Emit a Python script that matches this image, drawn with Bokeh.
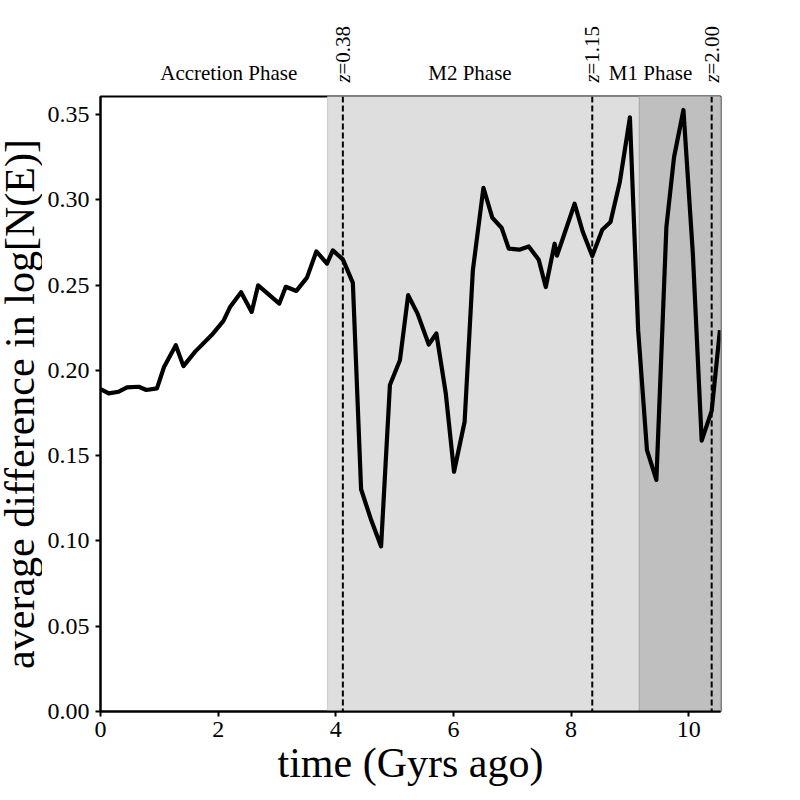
import math
from bokeh.plotting import figure
from bokeh.layouts import column, row
from bokeh.models import Range1d, FixedTicker, PrintfTickFormatter, Span, ColumnDataSource
from bokeh.core.properties import value
from bokeh.embed import file_html
from bokeh.resources import INLINE

# ---- data ----
time_gyr = [0.00, 0.14, 0.31, 0.45, 0.65, 0.78, 0.96, 1.08, 1.28, 1.41, 1.61, 1.89,
            2.09, 2.20, 2.39, 2.57, 2.68, 3.04, 3.15, 3.33, 3.51, 3.67, 3.85, 3.95,
            4.12, 4.29, 4.43, 4.60, 4.77, 4.92, 5.09, 5.23, 5.39, 5.58, 5.71, 5.87,
            6.01, 6.19, 6.33, 6.51, 6.66, 6.82, 6.94, 7.12, 7.28, 7.45, 7.57, 7.72,
            7.76, 7.91, 8.06, 8.20, 8.36, 8.53, 8.67, 8.83, 9.00, 9.14, 9.29, 9.45,
            9.62, 9.75, 9.91, 10.07, 10.22, 10.39, 10.53]
avg_diff = [0.189, 0.1865, 0.1875, 0.190, 0.1904, 0.1885, 0.1895, 0.202, 0.2148, 0.2025,
            0.211, 0.2207, 0.229, 0.237, 0.2458, 0.2343, 0.2499, 0.2392, 0.249, 0.2466,
            0.2544, 0.2698, 0.2626, 0.2704, 0.2651, 0.2513, 0.1303, 0.1124, 0.0968, 0.1914,
            0.2060, 0.2441, 0.2333, 0.2152, 0.2216, 0.1865, 0.1406, 0.1699, 0.2587, 0.3071,
            0.2896, 0.2835, 0.2714, 0.2708, 0.2727, 0.2649, 0.2489, 0.2743, 0.2673, 0.2825,
            0.2977, 0.2811, 0.2671, 0.2825, 0.2870, 0.3108, 0.3484, 0.2236, 0.1533, 0.1358,
            0.2840, 0.3250, 0.3527, 0.2683, 0.1588, 0.1763, 0.2236]

x_max = 10.54
y_max = 0.3606

phase_start = [3.86, 9.16]
phase_end = [x_max, x_max]
phase_colors = ["#dedede", "#bfbfbf"]
phase_edges = ["#cfcfcf", "#a9a9a9"]

phase_names = ["Accretion Phase", "M2 Phase", "M1 Phase"]
phase_label_x = [2.18, 6.28, 9.35]

z_values = ["=0.38", "=1.15", "=2.00"]
z_times = [4.12, 8.36, 10.39]

x_ticks = [0, 2, 4, 6, 8, 10]
y_ticks = [0.00, 0.05, 0.10, 0.15, 0.20, 0.25, 0.30, 0.35]

x_title = "time (Gyrs ago)"
y_title = "average difference in log[N(E)]"

FONT = "Liberation Serif"
STRIP = 42          # width of the strip holding the y title
LEFT, RIGHT = 58, 68
TOP_H = 92
FRAME_W, FRAME_H = 620, 615
MAIN_TOP, MAIN_BOT = 4, 84
TOTAL_H = TOP_H + MAIN_TOP + FRAME_H + MAIN_BOT


def bare(fig):
    fig.grid.visible = False
    fig.outline_line_color = None
    fig.background_fill_color = "white"
    fig.border_fill_color = "white"


# ---- y title strip (px coordinates) ----
ystrip = figure(width=STRIP, height=TOTAL_H, output_backend="svg", toolbar_location=None,
                x_range=Range1d(0, STRIP), y_range=Range1d(0, TOTAL_H),
                x_axis_location=None, y_axis_location=None,
                min_border_left=0, min_border_right=0, min_border_top=0, min_border_bottom=0)
bare(ystrip)
ystrip.text(x=[19], y=[MAIN_BOT + FRAME_H / 2], text=[y_title], angle=math.pi / 2,
            text_font=value(FONT), text_font_size="42px", text_align="center",
            text_baseline="middle", text_color="black")

# ---- header strip (texts above the axes), y measured in px above the frame ----
top = figure(width=LEFT + FRAME_W + RIGHT, height=TOP_H, output_backend="svg",
             toolbar_location=None,
             x_range=Range1d(0, x_max), y_range=Range1d(-MAIN_TOP, TOP_H - MAIN_TOP),
             x_axis_location=None, y_axis_location=None,
             min_border_left=LEFT, min_border_right=RIGHT, min_border_top=0, min_border_bottom=0)
bare(top)
top.text(x=phase_label_x, y=[16] * len(phase_label_x), text=phase_names,
         text_font=value(FONT), text_font_size="21px", text_align="center",
         text_baseline="alphabetic", text_color="black")
top.text(x=z_times, y=[6] * len(z_times), text=["z"] * len(z_times), angle=math.pi / 2,
         text_font=value(FONT), text_font_style="italic", text_font_size="21px",
         text_align="left", text_baseline="middle", text_color="black")
top.text(x=z_times, y=[14] * len(z_times), text=z_values, angle=math.pi / 2,
         text_font=value(FONT), text_font_size="21px",
         text_align="left", text_baseline="middle", text_color="black")

# ---- main plot ----
p = figure(width=LEFT + FRAME_W + RIGHT, height=MAIN_TOP + FRAME_H + MAIN_BOT,
           output_backend="svg", toolbar_location=None,
           x_range=top.x_range, y_range=Range1d(0, y_max),
           min_border_left=LEFT, min_border_right=RIGHT,
           min_border_top=MAIN_TOP, min_border_bottom=MAIN_BOT)
p.frame_width = FRAME_W
p.frame_height = FRAME_H
p.grid.visible = False
p.background_fill_color = "white"
p.border_fill_color = "white"
p.outline_line_color = "black"
p.outline_line_width = 2

src = ColumnDataSource(dict(left=phase_start, right=phase_end,
                            bottom=[0, 0], top=[y_max, y_max],
                            fill=phase_colors, edge=phase_edges))
p.quad(left="left", right="right", bottom="bottom", top="top", source=src,
       fill_color="fill", line_color="edge", line_width=1.2)

p.line(time_gyr, avg_diff, line_color="black", line_width=4.2, line_join="round")

for zt in z_times:
    p.add_layout(Span(location=zt, dimension="height", line_color="black",
                      line_width=2, line_dash="6 3"))

p.xaxis.ticker = FixedTicker(ticks=x_ticks)
p.xaxis.formatter = PrintfTickFormatter(format="%d")
p.yaxis.ticker = FixedTicker(ticks=y_ticks)
p.yaxis.formatter = PrintfTickFormatter(format="%.2f")
for ax in (p.xaxis[0], p.yaxis[0]):
    ax.axis_line_color = "black"
    ax.axis_line_width = 2
    ax.major_tick_line_color = "black"
    ax.major_tick_line_width = 2
    ax.major_tick_out = 5
    ax.major_tick_in = 0
    ax.minor_tick_line_color = None
    ax.major_label_text_font = FONT
    ax.major_label_text_font_size = "24px"
    ax.major_label_text_color = "black"
    ax.axis_label_text_font = FONT
    ax.axis_label_text_font_size = "42px"
    ax.axis_label_text_font_style = "normal"
    ax.axis_label_text_color = "black"

p.xaxis.axis_label = x_title
p.xaxis.major_label_standoff = 5
p.yaxis.major_label_standoff = 6
p.xaxis.axis_label_standoff = 0

layout = row(ystrip, column(top, p, spacing=0), spacing=0)
open("out.html", "w").write(file_html(layout, INLINE))
